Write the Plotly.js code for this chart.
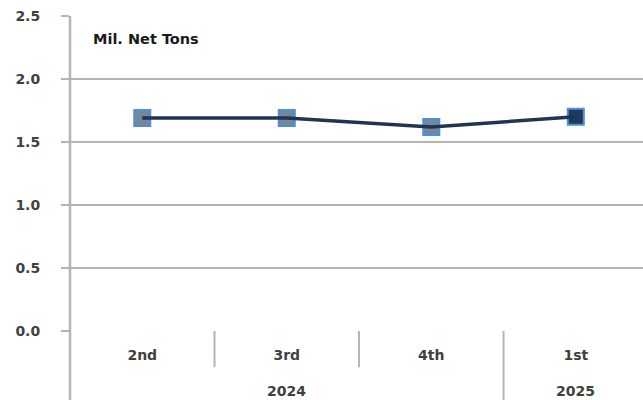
<!DOCTYPE html>
<html>
<head>
<meta charset="utf-8">
<script src="https://cdn.plot.ly/plotly-3.0.1.min.js"></script>
<style>
html,body{margin:0;padding:0;background:#fff;overflow:hidden;}
#chart{width:643px;height:400px;}
</style>
</head>
<body>
<div id="chart"></div>
<script>
// Data
var quarters = ["2nd", "3rd", "4th", "1st"];
var years = ["2024", "2024", "2024", "2025"];
var values = [1.69, 1.69, 1.62, 1.70];
var unitLabel = "Mil. Net Tons";

var gridColor = "#b4b4b4";
var textColor = "#404040";
var fontFam = "DejaVu Sans, Verdana, sans-serif";

var xIdx = quarters.map(function (q, i) { return i; });
var markerFill = values.map(function (v, i) { return i === values.length - 1 ? "#1f3a60" : "#74879e"; });

var markersTrace = {
  x: xIdx, y: values,
  type: "scatter", mode: "markers",
  marker: { symbol: "square", size: 16, color: markerFill, line: { color: "#4f8fd6", width: 2 } },
  hoverinfo: "skip", cliponaxis: false
};
var lineTrace = {
  x: xIdx, y: values,
  type: "scatter", mode: "lines",
  line: { color: "#1f3552", width: 3.5 },
  hoverinfo: "skip", cliponaxis: false
};

// year group labels and dividers, derived from the arrays
var annotations = [];
var shapes = [];
var groups = [];
years.forEach(function (y, i) {
  if (!groups.length || groups[groups.length - 1].year !== y) groups.push({ year: y, start: i, end: i });
  else groups[groups.length - 1].end = i;
});
groups.forEach(function (g) {
  annotations.push({
    x: (g.start + g.end) / 2, xref: "x", y: -0.19, yref: "paper",
    text: "<b>" + g.year + "</b>", showarrow: false,
    font: { family: fontFam, size: 14, color: textColor }, yanchor: "middle"
  });
});
for (var i = 0; i < quarters.length - 1; i++) {
  var groupBoundary = years[i] !== years[i + 1];
  shapes.push({
    type: "line", xref: "x", yref: "paper", x0: i + 0.5, x1: i + 0.5,
    y0: 0, y1: groupBoundary ? -0.25 : -0.115,
    line: { color: gridColor, width: 2 }
  });
}
// left axis line extending below plot
shapes.push({
  type: "line", xref: "paper", yref: "paper", x0: 0, x1: 0, y0: -0.25, y1: 1,
  line: { color: gridColor, width: 2.5 }
});
annotations.push({
  x: 0.036, xref: "paper", y: 0.96, yref: "paper", xanchor: "left",
  text: "<b>" + unitLabel + "</b>", showarrow: false,
  font: { family: fontFam, size: 14.5, color: "#1a1a1a" }
});

var layout = {
  width: 643, height: 400,
  margin: { l: 70, r: 0, t: 16, b: 69, pad: 0 },
  paper_bgcolor: "#fff", plot_bgcolor: "#fff",
  showlegend: false,
  xaxis: {
    type: "linear",
    range: [-0.5, 3.465],
    tickmode: "array",
    tickvals: xIdx,
    ticktext: quarters,
    ticks: "", showgrid: false, zeroline: false, showline: false,
    tickfont: { family: fontFam, size: 14, color: textColor, weight: "bold" },
    ticklabelstandoff: 14
  },
  yaxis: {
    range: [0, 2.5], dtick: 0.5, tick0: 0,
    tickformat: ".1f",
    showgrid: true, gridcolor: gridColor, gridwidth: 2,
    zeroline: false, showline: false,
    ticks: "outside", ticklen: 8, tickwidth: 2, tickcolor: gridColor,
    tickfont: { family: fontFam, size: 14, color: textColor, weight: "bold" },
    ticklabelstandoff: 18
  },
  annotations: annotations,
  shapes: shapes
};

Plotly.newPlot("chart", [markersTrace, lineTrace], layout, { staticPlot: true, displayModeBar: false });
</script>
</body>
</html>
